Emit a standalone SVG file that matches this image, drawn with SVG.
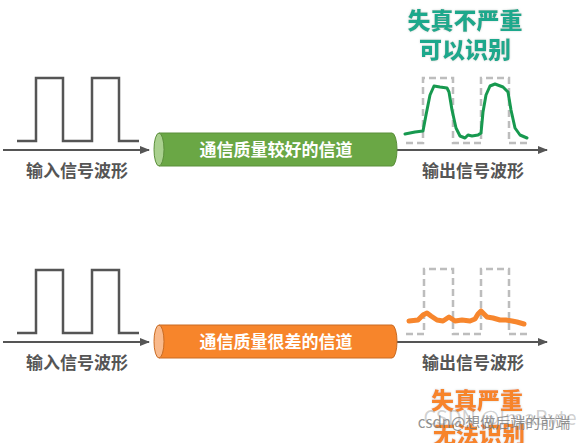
<svg xmlns="http://www.w3.org/2000/svg" width="582" height="443" viewBox="0 0 582 443">
<defs>
<marker id="ah" markerWidth="10" markerHeight="10" refX="9" refY="5" orient="auto" markerUnits="userSpaceOnUse">
<path d="M0,1 L10,5 L0,9 Z" fill="#555"/>
</marker>
<filter id="glow" x="-10%" y="-20%" width="120%" height="140%">
<feGaussianBlur in="SourceAlpha" stdDeviation="1.2" result="b"/>
<feFlood flood-color="#cfd8d6" result="c"/>
<feComposite in="c" in2="b" operator="in" result="s"/>
<feMerge><feMergeNode in="s"/><feMergeNode in="SourceGraphic"/></feMerge>
</filter>
</defs>
<style>
.lbl{font-family:"Noto Sans CJK SC","Noto Sans",sans-serif;font-weight:bold;font-size:17px;fill:#555;text-anchor:middle}
.ch{font-family:"Noto Sans CJK SC","Noto Sans",sans-serif;font-weight:bold;font-size:17px;fill:#fff;text-anchor:middle}
.ttl{font-family:"Noto Sans CJK SC","Noto Sans",sans-serif;font-weight:900;font-size:23px;text-anchor:middle}
.sq{fill:none;stroke:#555;stroke-width:2.5}
.dash{fill:none;stroke:#bdbdbd;stroke-width:2.5;stroke-dasharray:7 4}
.ax{stroke:#555;stroke-width:2;fill:none}
.wm{font-family:"Noto Sans CJK SC","Liberation Sans",sans-serif}
</style>
<rect width="582" height="443" fill="#fff"/>

<g id="connectors">
<line class="ax" x1="3" y1="150" x2="149" y2="150" marker-end="url(#ah)"/>
<line class="ax" x1="397" y1="150" x2="547" y2="150" marker-end="url(#ah)"/>
<line class="ax" x1="3" y1="342" x2="149" y2="342" marker-end="url(#ah)"/>
<line class="ax" x1="397" y1="342" x2="547" y2="342" marker-end="url(#ah)"/>
</g>

<g id="input-top">
<path class="sq" d="M17,141 H36 V78 H63 V141 H92 V78 H119 V141 H139"/>
<text class="lbl" x="77" y="177">输入信号波形</text>
</g>

<g id="channel-good">
<path d="M159,133 H392 A5,16.5 0 0 1 392,166 H159 Z" fill="#6aa745" stroke="#5b8f3b" stroke-width="1"/>
<ellipse cx="159" cy="149.5" rx="5" ry="16.5" fill="#a9d08e" stroke="#5b8f3b" stroke-width="1"/>
<text class="ch" x="276" y="156">通信质量较好的信道</text>
</g>

<g id="output-top">
<path class="dash" d="M406,143 H423 V78 H453 V143 H481 V78 H509 V143 H527"/>
<path d="M405,134 L415,132 L423,131 L426,115 L430,95 L434,86 L440,87 L447,88 L449,92 L452,110 L456,128 L460,136 L465,138 L468,135 L472,136 L478,135 L481,133 L483,112 L486,95 L490,86 L495,84 L503,87 L508,92 L511,110 L515,128 L520,135 L527,138" fill="none" stroke="#17994f" stroke-width="3" stroke-linejoin="round" stroke-linecap="round"/>
<text class="lbl" x="473" y="177">输出信号波形</text>
</g>

<g id="verdict-top" filter="url(#glow)">
<text class="ttl" x="465" y="29" fill="#1ea88c">失真不严重</text>
<text class="ttl" x="465" y="58" fill="#1ea88c">可以识别</text>
</g>

<g id="input-bottom">
<path class="sq" d="M17,333 H36 V270 H63 V333 H92 V270 H119 V333 H139"/>
<text class="lbl" x="77" y="369">输入信号波形</text>
</g>

<g id="channel-bad">
<path d="M159,325 H392 A5,16.5 0 0 1 392,358 H159 Z" fill="#f7852b" stroke="#c96b22" stroke-width="1"/>
<ellipse cx="159" cy="341.5" rx="5" ry="16.5" fill="#f9b98b" stroke="#c96b22" stroke-width="1"/>
<text class="ch" x="276" y="348">通信质量很差的信道</text>
</g>

<g id="output-bottom">
<path class="dash" d="M406,334 H424 V269 H453 V334 H481 V269 H509 V334 H527"/>
<path d="M409,321 L418,320 L423,315 L427,313 L431,316 L437,320 L443,321 L449,317 L455,321 L462,320 L470,321 L475,319 L478,314 L481,311 L484,314 L487,317 L493,318 L500,320 L506,320 L512,321 L517,322 L524,324" fill="none" stroke="#f7862d" stroke-width="5" stroke-linejoin="round" stroke-linecap="round"/>
<text class="lbl" x="473" y="369">输出信号波形</text>
</g>

<g id="verdict-bottom" filter="url(#glow)">
<text class="ttl" x="477" y="409" fill="#f7842a">失真严重</text>
<text class="ttl" x="479" y="443" fill="#f7842a">无法识别</text>
</g>

<g id="watermark">
<text class="wm" x="500" y="425" font-size="20" fill="#999" fill-opacity="0.45" text-anchor="middle">CSDN @ImaByte</text>
<text class="wm" x="494" y="428" font-size="15" fill="#777" fill-opacity="0.8" text-anchor="middle">csdn@想做后端的前端</text>
</g>
</svg>
